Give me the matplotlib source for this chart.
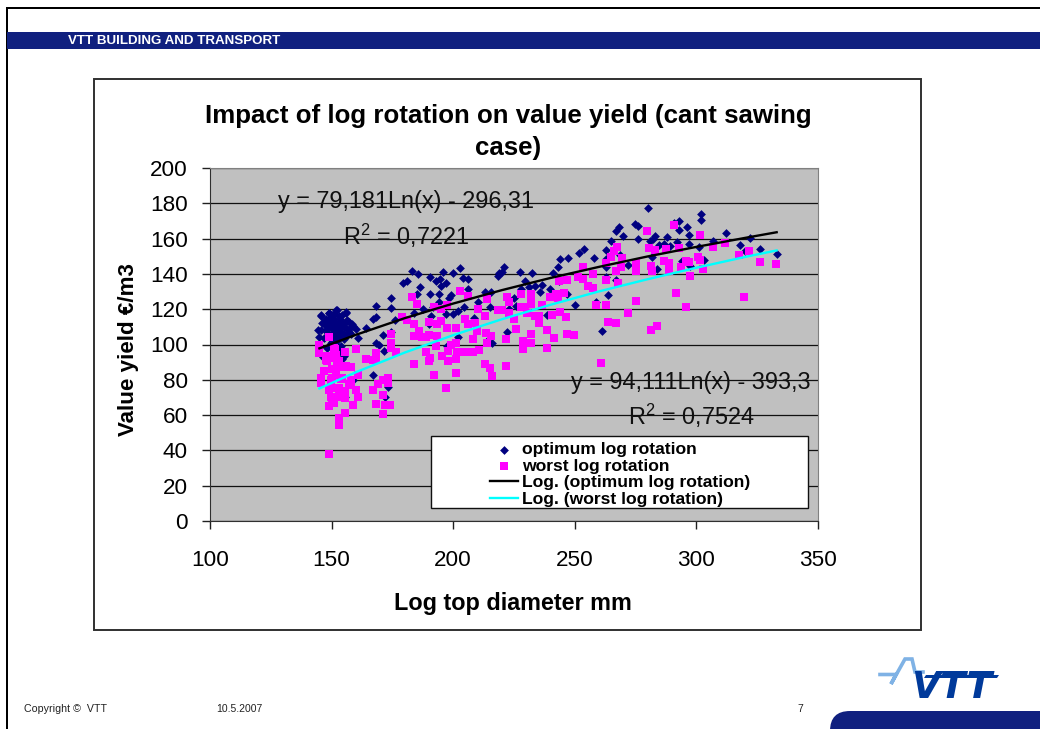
import matplotlib
matplotlib.use("Agg")
import matplotlib.pyplot as plt
from matplotlib.patches import Rectangle, FancyBboxPatch, Polygon

plt.rcParams['font.family'] = ['Liberation Sans', 'DejaVu Sans']
plt.rcParams['mathtext.default'] = 'regular'

TITLE = "Impact of log rotation on value yield (cant sawing\ncase)"
XLABEL = "Log top diameter mm"
YLABEL = "Value yield €/m3"
X_TICKS = [100, 150, 200, 250, 300, 350]
Y_TICKS = [0, 20, 40, 60, 80, 100, 120, 140, 160, 180, 200]

opt_pts = [
 (145.5,116),(149,118),(152,119.5),(156,118),(144.5,108),(145,104),(147.5,110.5),(150,113),(154,113),(157,113),
 (159,110.5),(156.5,108.7),(151,108),(154,110),(152,106),(145.5,116.5),(149,118),(152.3,119.7),(155.8,118.5),(149.6,111.8),
 (151.7,108),(153.7,112),(156.5,113.7),(158.5,111.8),(159.9,109),(145.8,108),(146.7,103.6),(147.6,114.7),(150.3,106),(153,104),
 (155,106),(157.2,107),(151,114.7),(154.4,116.5),(149,110),(152.3,102),(149.6,101),(153.7,99),(155,93.6),(154.4,91.7),
 (159,80),(155.7,70),(173,76),(172,70),(161,103.4),(164.3,109.6),(167,114.7),(168.4,115.3),(168.4,121.7),(174.3,126.3),
 (174.3,120.4),(174.3,107),(171,105.3),(168.4,100.7),(169.5,100),(171.6,96.4),(167,83),(176,114),(179.3,134.6),(181,135.7),
 (183,141.8),(185.4,140),(186.5,132.3),(185,128.5),(190.4,138),(190.4,128.5),(184,118),(187.4,120),(191.5,121),(194.7,137),
 (193,136),(195.7,141),(197,135),(195,133),(200,140.6),(203,143.3),(204,137.4),(206.2,137),(206,131.4),(199,128),
 (198.4,126.6),(194,128.5),(194.3,123.8),(202,119),(200,117),(204.6,121),(191,116),(190,111.5),(197,117),(202,104),
 (197.5,99),(214,102),(216,100.6),(213,130),(215.4,129.5),(218.4,139),(220,141),(221,144),(227.6,141),(210,124),
 (208.6,115),(215,121),(222,107),(225,126.6),(223,120),(226,122),(219,140.5),(232.5,140.6),(229.5,136),(228,131.4),
 (231,132.3),(233.6,133.3),(236.4,133.8),(235.7,129.9),(240,131.4),(241,140.3),(243,144),(244,148.4),(247,149),(243.3,135.7),
 (246.7,128.5),(250,122.3),(238.5,116.6),(251.8,152),(253.6,154),(258,149),(262.8,153.5),(263,148.4),(263,143.7),(263,138),
 (267,136.5),(263.5,128),(258.8,123.8),(261,107.8),(264.8,158.4),(267,164.5),(268,166.7),(269.8,161.6),(268.7,150.7),(272,145),
 (274.9,168),(275.8,167),(275.8,159.5),(280,177.3),(281,158.8),(282,159.7),(283,161.6),(281.7,149.3),(284,143),(284.8,156.5),
 (286.5,157),(288,160.7),(289,156),(290.7,169),(293,169.8),(293,164.8),(296,166.7),(296.8,162),(292,158),(296.8,157),
 (294,147.4),(297.5,144.6),(301,155),(301.7,173.7),(301.7,170.3),(303,147.8),(306.7,158.4),(312,163),(317.9,156.5),(322,160.3),
 (320,153),(326,154),(333,151),
 (148,113),(149.5,115),(151,117),(153,116),(150,110),(152,111),(153,109),(155,110),(148,107),(149,105),
 (150.5,104),(152,103),(154,107),(155,103),(156,105),(157.5,109.5),(158,106),(147,113),(146,112),(150,116.5),
 (151.5,113),(153.5,114.5),(155.5,112),(148,109),(150,101.5),(151,99),(152.5,98.5),(154,96),(148,98),(146.5,93),
]
worst_pts = [
 (149,38),(153,54.4),(153,58.6),(155.5,61),(149,65),(159,65.8),(171,60.9),(168.2,66.5),(172,66),(174,65.8),
 (171,71.5),(167,74),(169,77.5),(173,78.4),(171,80),(173,81),(161,70),(160,74),(158,77),(158.1,80),
 (160.9,83),(145.7,81),(145.7,78.4),(147,85),(150,86),(153,87),(155.5,87),(158,87),(152,83),(150,81),
 (154.4,81),(149.6,75.6),(153,75.6),(155.5,73.7),(149.6,70),(152,70),(155.5,69.5),(150,67),(144.8,99.8),(144.8,95),
 (149,104),(151.6,97.4),(148,93.6),(151.6,92.6),(155.5,95.5),(148,90.7),(153,90.7),(160,97.4),(164,92),(167,91.3),
 (168.2,91.7),(168.2,95),(174.3,105.9),(174.3,100.6),(174.3,98),(176.4,96),(183,127),(185,122.7),(179,115.7),(181,113.8),
 (184,111.5),(184,105),(186,107.8),(187,104),(190,112.5),(189,104),(190,105.5),(193.4,105),(192,121),(195,120),
 (197.5,122.5),(203,130.4),(206,127.6),(214,125.7),(210.4,120),(213,116),(218.6,119.7),(220,119.7),(222,127),(223,124),
 (226,108.7),(228,128.5),(225,114.7),(195,113.4),(197.6,109.6),(201,109.6),(193.4,111.5),(204.7,114.4),(206,111.5),(209,112),
 (209.6,107.8),(213.5,106.4),(215.6,105),(221.8,103),(214,100.6),(208,103),(201,100.6),(199,100),(197.7,96.4),(201.6,95.5),
 (204.7,95.5),(208,96),(210.8,96.8),(189,95.5),(193,99),(195.6,93.6),(197.7,90.7),(190.6,92.6),(190,90.7),(201,91.7),
 (183.7,88.8),(201,84),(192,82.8),(197,75.2),(213,88.8),(215,86.6),(216,82.2),(221.8,87.9),(223,117.8),(227.7,128.5),
 (232,128.5),(232,125.7),(232,122.9),(229.7,121.4),(227.7,121),(230.3,117.8),(233.8,116.3),(236.5,122.3),(235.4,115.9),(235.4,112),
 (238.7,108),(241.6,103.6),(232,106),(232,100.6),(228.5,101.7),(228.5,97.4),(238.7,98),(246.7,106.2),(249.7,105.5),(240.5,116.6),
 (243.9,118.5),(246.5,115.3),(239.9,127),(242.2,128.5),(245.7,129),(243,126.3),(243.3,135.7),(246.6,136.5),(251.5,138),(253.3,143.7),
 (253.3,137),(257.4,140),(255.5,133.3),(257.6,131.8),(258.7,122.3),(262.7,122.3),(262.7,136.7),(262.7,146),(263.5,112.5),(266.8,112),
 (260.9,89.8),(264.8,149.7),(267,141.8),(268.9,143.7),(267.6,134.6),(267.3,155),(266.2,152.7),(269.4,149),(275,146),(275.3,141.8),
 (275.3,124.8),(271.8,118),(279.7,164.5),(280.4,154.4),(281.5,144.6),(281.7,141.4),(281.5,108.3),(283.8,110.6),(283.1,153.5),(287.6,154),
 (286.5,147.4),(288.6,146),(288.6,141.8),(291.6,128.9),(290.7,167.7),(292.7,154.6),(293.8,144),(295.7,147.4),(296.8,146.5),(297.5,139),
 (295.6,121.4),(300.5,149.3),(301.6,148),(301.6,162.2),(302.6,142.7),(306.7,155.4),(311.7,157.3),(317.4,150.7),(321.8,152.7),(319.5,126.7),
 (326,146.9),(332.8,145.6),(149,93),(151.7,94),(147.6,91),(151,98.3),(152.3,90.7),(153.7,80.6),(149.6,80),(149,74),
 (153,74),(154.4,70),(151,67),(150.3,70),(145.8,80.6),(156,88),(157.3,77.6),
]
trend_x = [145, 160, 180, 200, 220, 240, 260, 280, 300, 320, 333]
trend_opt = [97.8, 105.5, 114.9, 123.2, 130.8, 137.7, 144.0, 149.9, 155.3, 160.4, 163.6]
trend_worst = [75.1, 84.3, 95.4, 105.3, 114.3, 122.5, 130.1, 137.0, 143.5, 149.6, 153.3]

W, H = 1040, 729
fig = plt.figure(figsize=(W/100, H/100), dpi=100, facecolor='white')

# slide furniture, in pixel coordinates
bg = fig.add_axes([0, 0, 1, 1], zorder=0)
bg.set_xlim(0, W); bg.set_ylim(H, 0); bg.axis('off')
NAVY = '#10207F'
bg.add_patch(Rectangle((5.5, 7), W, 2, fc='black', ec='none'))
bg.add_patch(Rectangle((5.5, 7), 2, H, fc='black', ec='none'))
bg.add_patch(Rectangle((7, 32), W, 17, fc=NAVY, ec='none'))
bg.text(68, 40.5, "VTT BUILDING AND TRANSPORT", color='white', fontsize=9.6, fontweight='bold', va='center')
bg.add_patch(Rectangle((94, 79), 827, 551, fc='white', ec='#303030', lw=1.4))
bg.text(24, 709, "Copyright ©  VTT", fontsize=7.7, va='center', color='#222222')
bg.text(216, 709, "10.5.2007", fontsize=7.5, va='center', color='#222222')
bg.text(797, 709, "7", fontsize=7.5, va='center', color='#222222')
bg.add_patch(FancyBboxPatch((830, 711), 280, 60, boxstyle="round,pad=0,rounding_size=20", fc=NAVY, ec='none'))
bg.plot([880, 896, 891, 905, 912, 915, 923], [674.5, 674.5, 684, 659, 659, 672, 672], color='#7FB2E5', lw=2.6, solid_joinstyle='miter')
bg.add_patch(Polygon([(926, 675), (999, 675), (997, 678), (924, 678)], fc='#003A9B', ec='none'))
bg.text(952, 688, "VTT", color='#003A9B', fontsize=27, fontweight='bold', style='italic',
        ha='center', va='center', family='DejaVu Sans')

# chart
ax = fig.add_axes([210/W, 1-521/H, 608/W, 353/H], zorder=1)
ax.set_facecolor('#C0C0C0')
ax.set_xlim(100, 350)
ax.set_ylim(0, 200)
ax.set_xticks(X_TICKS)
ax.set_yticks(Y_TICKS)
ax.tick_params(axis='both', length=5.8, width=1, labelsize=16.2, color='#202020')
ax.tick_params(axis='x', pad=15)
ax.tick_params(axis='y', pad=10)
ax.yaxis.grid(True, color='#101010', lw=0.9)
ax.set_axisbelow(True)
for s in ('top', 'right'):
    ax.spines[s].set_color('#808080')
for s in ('left', 'bottom'):
    ax.spines[s].set_color('#303030')

h1 = ax.scatter([p[0] for p in opt_pts], [p[1] for p in opt_pts], marker='D', s=20, c='#000080',
                linewidths=0, zorder=3, label='optimum log rotation')
h2 = ax.scatter([p[0] for p in worst_pts], [p[1] for p in worst_pts], marker='s', s=29, c='#FF00FF',
                linewidths=0, zorder=4, label='worst log rotation')
h3, = ax.plot(trend_x, trend_opt, color='black', lw=1.7, zorder=5, label='Log. (optimum log rotation)')
h4, = ax.plot(trend_x, trend_worst, color='#00FFFF', lw=1.7, zorder=5, label='Log. (worst log rotation)')

ax.set_title(TITLE, fontsize=18.6, fontweight='bold', x=0.491, y=1.014, linespacing=1.43)
ax.set_xlabel(XLABEL, fontsize=16.8, fontweight='bold')
ax.xaxis.set_label_coords(0.499, -0.202)
ax.set_ylabel(YLABEL, fontsize=16.1, fontweight='bold')
ax.yaxis.set_label_coords(-0.117, 0.486)

eq_size = 16.9
ax.text(180.6, 181, "y = 79,181Ln(x) - 296,31", fontsize=eq_size, ha='center', va='center', color='#111111', zorder=6)
ax.text(180.6, 161.5, "R$^2$ = 0,7221", fontsize=eq_size, ha='center', va='center', color='#111111', zorder=6)
ax.text(297.9, 78.5, "y = 94,111Ln(x) - 393,3", fontsize=eq_size, ha='center', va='center', color='#111111', zorder=6)
ax.text(297.8, 59.5, "R$^2$ = 0,7524", fontsize=eq_size, ha='center', va='center', color='#111111', zorder=6)

ax.add_patch(Rectangle((431, 436), 377, 72, transform=bg.transData, fc='white', ec='#101010', lw=1, zorder=7))
leg = ax.legend(handles=[h1, h2, h3, h4], loc='upper left', bbox_to_anchor=(490/W, 1-442/H),
                bbox_transform=fig.transFigure, frameon=False,
                prop={'weight': 'bold', 'size': 12.6}, labelspacing=0.07, borderpad=0, borderaxespad=0,
                handlelength=1.6, handletextpad=0.23, scatterpoints=1)
leg.set_zorder(8)

fig.savefig("out.png", dpi=100)
